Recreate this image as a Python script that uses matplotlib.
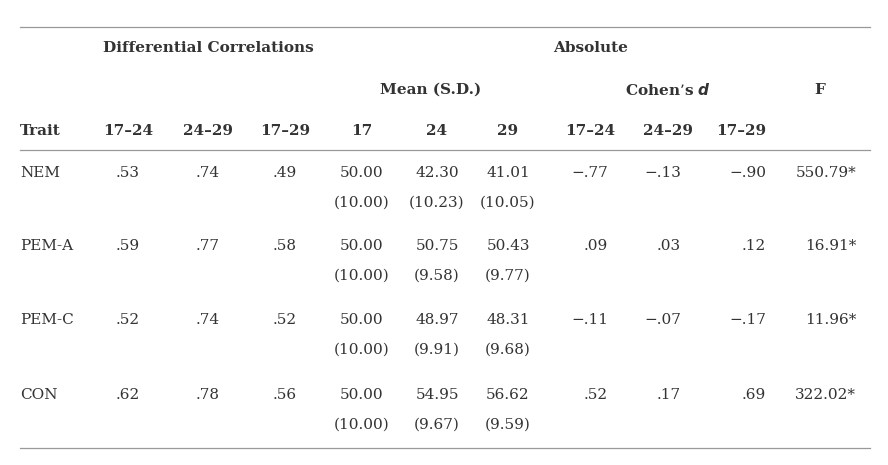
import matplotlib.pyplot as plt

# table data
traits = ["NEM", "PEM-A", "PEM-C", "CON"]
diff_corr = [[".53", ".74", ".49"], [".59", ".77", ".58"],
             [".52", ".74", ".52"], [".62", ".78", ".56"]]
means = [["50.00", "42.30", "41.01"], ["50.00", "50.75", "50.43"],
         ["50.00", "48.97", "48.31"], ["50.00", "54.95", "56.62"]]
sds = [["(10.00)", "(10.23)", "(10.05)"], ["(10.00)", "(9.58)", "(9.77)"],
       ["(10.00)", "(9.91)", "(9.68)"], ["(10.00)", "(9.67)", "(9.59)"]]
cohens = [["\u2212.77", "\u2212.13", "\u2212.90"], [".09", ".03", ".12"],
          ["\u2212.11", "\u2212.07", "\u2212.17"], [".52", ".17", ".69"]]
f_vals = ["550.79*", "16.91*", "11.96*", "322.02*"]
col_heads = ["17\u201324", "24\u201329", "17\u201329", "17", "24", "29",
             "17\u201324", "24\u201329", "17\u201329"]

fig = plt.figure(figsize=(8.88, 4.65), dpi=100)
ax = fig.add_axes([0, 0, 1, 1])
ax.set_xlim(0, 888)
ax.set_ylim(465, 0)
ax.axis("off")

plt.rcParams['font.family'] = ['DejaVu Serif']
col = "#333333"
fs = 11
kw = dict(color=col, fontsize=fs, va="center", ha="center")

# rules
for y in [27, 150, 448]:
    ax.plot([20, 870], [y, y], color="#999999", lw=0.9)

# headers
ax.text(208, 48, "Differential Correlations", fontweight="bold", **kw)
ax.text(591, 48, "Absolute", fontweight="bold", **kw)
ax.text(431, 90, "Mean (S.D.)", fontweight="bold", **kw)
ax.text(668, 90, "Cohen\u2019s $\\boldsymbol{d}$", fontweight="bold", **kw)
ax.text(820, 90, "F", fontweight="bold", **kw)
ax.text(20, 131, "Trait", fontweight="bold", color=col, fontsize=fs, va="center", ha="left")

xs = [128, 208, 285, 362, 437, 508, 590, 668, 741]
for x, h in zip(xs, col_heads):
    ax.text(x, 131, h, fontweight="bold", **kw)

cohen_right = [608, 681, 766]
row_y = [173, 246, 320, 395]
for i, t in enumerate(traits):
    y = row_y[i]
    ax.text(20, y, t, color=col, fontsize=fs, va="center", ha="left")
    for j in range(3):
        ax.text(xs[j], y, diff_corr[i][j], **kw)
        ax.text(xs[3 + j], y, means[i][j], **kw)
        ax.text(xs[3 + j], y + 30, sds[i][j], **kw)
        ax.text(cohen_right[j], y, cohens[i][j], color=col, fontsize=fs, va="center", ha="right")
    ax.text(856, y, f_vals[i], color=col, fontsize=fs, va="center", ha="right")

fig.savefig("out.png", dpi=100, facecolor="white")
